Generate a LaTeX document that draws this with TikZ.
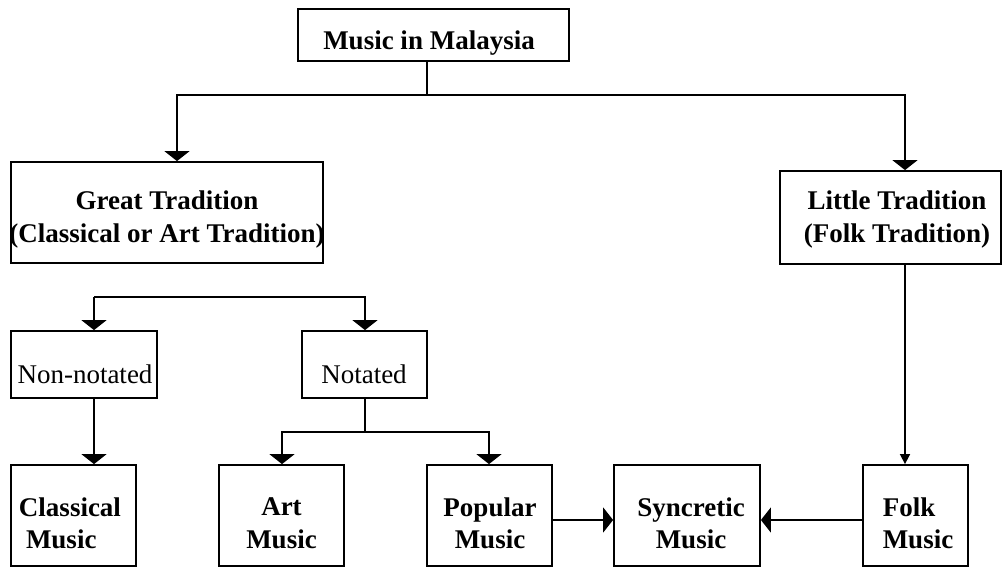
\documentclass[tikz,border=0pt]{standalone}
\usepackage{fontspec}
\setmainfont{Liberation Serif}
\usetikzlibrary{arrows.meta}
\begin{document}
\begin{tikzpicture}[x=1pt,y=-1pt,
  frame/.style={draw,line width=1.8pt,inner sep=0pt},
  txt/.style={inner sep=0pt,align=center,font=\fontsize{27}{32.5}\selectfont\bfseries},
  plaintxt/.style={txt,font=\fontsize{27}{32.5}\selectfont},
  conn/.style={line width=1.6pt},
  arr/.style={conn,-{Triangle[width=25pt,length=10pt]}},
  arrs/.style={conn,-{Triangle[width=10pt,length=10pt]}}]
\useasboundingbox (0,0) rectangle (1002,567);
% boxes
\node[frame,minimum width=271pt,minimum height=52pt] (top) at (433.5,35) {};
\node[frame,minimum width=312pt,minimum height=101pt] (great) at (167,212.5) {};
\node[frame,minimum width=221pt,minimum height=93pt] (little) at (890.5,217.5) {};
\node[frame,minimum width=146pt,minimum height=67pt] (nonnot) at (84,364.5) {};
\node[frame,minimum width=125pt,minimum height=67pt] (notated) at (364.5,364.5) {};
\node[frame,minimum width=125pt,minimum height=101pt] (classical) at (73.5,515.5) {};
\node[frame,minimum width=125pt,minimum height=101pt] (art) at (281.5,515.5) {};
\node[frame,minimum width=125pt,minimum height=101pt] (popular) at (489.5,515.5) {};
\node[frame,minimum width=146pt,minimum height=101pt] (syncretic) at (687,515.5) {};
\node[frame,minimum width=105pt,minimum height=101pt] (folk) at (915.5,515.5) {};
% texts
\node[txt] (top-t) at (429,43) {Music in Malaysia};
\node[txt] (great-t) at (167,219.5) {Great Tradition\\(Classical or Art Tradition)};
\node[txt] (little-t) at (897,219.5) {Little Tradition\\(Folk Tradition)};
\node[plaintxt] (nonnot-t) at (85,374.5) {Non-notated};
\node[plaintxt] (notated-t) at (364,374.5) {Notated};
\node[txt,align=left] (classical-t) at (70,523.5) {Classical\\\hspace*{7pt}Music};
\node[txt] (art-t) at (281.5,523.5) {Art\\Music};
\node[txt] (popular-t) at (490,523.5) {Popular\\Music};
\node[txt] (syncretic-t) at (691,523.5) {Syncretic\\Music};
\node[txt,align=left] (folk-t) at (918,523.5) {Folk\\Music};
% junction coordinates
\coordinate (tA) at (427,95);
\coordinate (gA) at (177,95);
\coordinate (lA) at (905,95);
\coordinate (b1) at (94,297);
\coordinate (b2) at (365,297);
\coordinate (n1) at (365,432);
\coordinate (n2) at (282,432);
\coordinate (n3) at (489,432);
\coordinate (sy) at (687,520);
% connectors
\draw[conn] (top.south -| tA) -- (tA);
\draw[arr] (tA) -| (great.north -| gA);
\draw[arr] (tA) -| (little.north -| lA);
\draw[arr] (b1) -- (nonnot.north -| b1);
\draw[arr] (b1) -| (notated.north -| b2);
\draw[arr] (nonnot.south -| b1) -- (classical.north -| b1);
\draw[conn] (notated.south -| n1) -- (n1);
\draw[arr] (n1) -| (art.north -| n2);
\draw[arr] (n1) -| (popular.north -| n3);
\draw[arrs] (little.south -| lA) -- (folk.north -| lA);
\draw[arr] (popular.east |- sy) -- (syncretic.west |- sy);
\draw[arr] (folk.west |- sy) -- (syncretic.east |- sy);
\end{tikzpicture}
\end{document}
